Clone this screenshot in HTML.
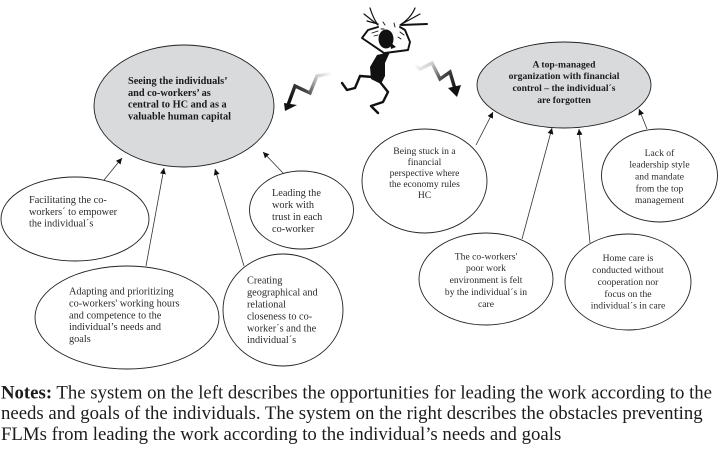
<!DOCTYPE html>
<html><head><meta charset="utf-8"><style>
html,body{margin:0;padding:0;background:#fff}
svg{display:block;filter:blur(.3px)}
text{font-family:"Liberation Serif",serif;font-size:10.3px;fill:#2a2a2a}
.r{font-size:9.6px;letter-spacing:.02px}
.b{font-weight:bold;fill:#1a1a1a}
.c{text-anchor:middle}
.n{font-size:18.78px;fill:#1c1c1c}
.e{stroke:#222;stroke-width:.9;fill:#fff}
.g{fill:#d9dadc}
.a{stroke:#333;stroke-width:.8;fill:none;marker-end:url(#m)}
.f{fill:none;stroke:#111;stroke-linecap:round;stroke-linejoin:round}
</style></head><body>
<svg width="718" height="450" viewBox="0 0 718 450" xmlns="http://www.w3.org/2000/svg">
<defs>
<marker id="m" markerUnits="userSpaceOnUse" markerWidth="8" markerHeight="8" refX="6" refY="3" orient="auto"><path d="M0 0L6 3L0 6Z" fill="#111"/></marker>
<linearGradient id="l1" gradientUnits="userSpaceOnUse" x1="333" y1="75" x2="290" y2="100"><stop offset="0" stop-color="#fff"/><stop offset=".3" stop-color="#ccc"/><stop offset=".65" stop-color="#444"/><stop offset="1" stop-color="#111"/></linearGradient>
<linearGradient id="l2" gradientUnits="userSpaceOnUse" x1="415" y1="64" x2="455" y2="90"><stop offset="0" stop-color="#fff"/><stop offset=".3" stop-color="#ccc"/><stop offset=".65" stop-color="#444"/><stop offset="1" stop-color="#111"/></linearGradient>
</defs>

<ellipse class="e g" cx="184" cy="106" rx="90" ry="61"/>
<ellipse class="e g" cx="564" cy="85" rx="87" ry="43"/>

<ellipse class="e" cx="75" cy="219" rx="74" ry="42"/>
<ellipse class="e" cx="301.5" cy="210" rx="52" ry="39"/>
<ellipse class="e" cx="127" cy="317.5" rx="92" ry="51.5"/>
<ellipse class="e" cx="283" cy="310" rx="60" ry="56"/>
<ellipse class="e" cx="424.5" cy="181" rx="62.5" ry="52"/>
<ellipse class="e" cx="659.5" cy="175.5" rx="58" ry="46.5"/>
<ellipse class="e" cx="486" cy="279" rx="67" ry="46"/>
<ellipse class="e" cx="628" cy="282" rx="63" ry="48"/>

<path class="a" d="M104 180L122 158"/>
<path class="a" d="M146 266L164 168"/>
<path class="a" d="M244 266L215 169"/>
<path class="a" d="M283 173L263 152"/>
<path class="a" d="M476 145L493 112"/>
<path class="a" d="M522 239L552 128"/>
<path class="a" d="M590 243L579 129"/>
<path class="a" d="M647 129L639 109"/>

<!-- lightning -->
<path d="M333 73L317 76L310 93L295 86L288 105" fill="none" stroke="url(#l1)" stroke-width="3.4"/>
<path d="M285 111L284 103L297 105Z" fill="#111"/>
<path d="M415 65L420 69L432 63L440 79L450 72L455 89" fill="none" stroke="url(#l2)" stroke-width="3.4"/>
<path d="M457 97L448 88L461 85Z" fill="#111"/>

<!-- figure -->
<ellipse cx="386" cy="39" rx="7.5" ry="9.5" fill="#111"/>
<path d="M390 42L396 47L391 49Z" fill="#111"/>
<path fill="#111" d="M377 55L390 52L385 63L385 76L381 84L371 79L370 67Z"/>
<path class="f" stroke-width="1.9" d="M384 53L362 38L368 30L378 27"/>
<path class="f" stroke-width="1.9" d="M385 53L408 50L410 42L405 30L400 27"/>
<path class="f" stroke-width="2.4" d="M373 77L360 76L355 88L347 90L342 83"/>
<path class="f" stroke-width="2.4" d="M380 82L388 92L383 102L371 106L378 113"/>
<path class="f" stroke-width="1.2" d="M378 25Q373 18 370 8M378 25L364 14M378 24L367 21"/>
<path class="f" stroke-width="1.2" d="M400 25Q411 18 415 8M400 25L420 14"/>
<path class="f" stroke-width="1.9" d="M401 25L427 24"/>
<path class="f" stroke-width=".9" d="M372 33L378 31M374 36L378 35M383 22L385 25M394 23L395 27M400 32L404 35M398 37L401 39M381 29L384 29"/>

<!-- center bold -->
<text class="b" x="128" y="84">Seeing the individuals’</text>
<text class="b" x="128" y="96">and co-workers’ as</text>
<text class="b" x="128" y="107.5">central to HC and as a</text>
<text class="b" x="128" y="119.5">valuable human capital</text>

<text class="b c r" x="564" y="67.5">A top-managed</text>
<text class="b c r" x="564" y="79">organization with financial</text>
<text class="b c r" x="564" y="91">control – the individual´s</text>
<text class="b c r" x="564" y="103">are forgotten</text>

<text x="29" y="203">Facilitating the co-</text>
<text x="29" y="215">workers´ to empower</text>
<text x="29" y="226.5">the individual´s</text>

<text x="272" y="196">Leading the</text>
<text x="272" y="208">work with</text>
<text x="272" y="220">trust in each</text>
<text x="272" y="232">co-worker</text>

<text x="69" y="294.5">Adapting and prioritizing</text>
<text x="69" y="306.5">co-workers' working hours</text>
<text x="69" y="318.5">and competence to the</text>
<text x="69" y="330">individual’s needs and</text>
<text x="69" y="342">goals</text>

<text x="247" y="283.5">Creating</text>
<text x="247" y="295.5">geographical and</text>
<text x="247" y="307.5">relational</text>
<text x="247" y="319.5">closeness to co-</text>
<text x="247" y="331.5">worker´s and the</text>
<text x="247" y="343">individual´s</text>

<text class="c r" x="424.5" y="154">Being stuck in a</text>
<text class="c r" x="424.5" y="165">financial</text>
<text class="c r" x="424.5" y="176">perspective where</text>
<text class="c r" x="424.5" y="187">the economy rules</text>
<text class="c r" x="424.5" y="198">HC</text>

<text class="c r" x="659.5" y="156">Lack of</text>
<text class="c r" x="659.5" y="167.5">leadership style</text>
<text class="c r" x="659.5" y="179.5">and mandate</text>
<text class="c r" x="659.5" y="191.5">from the top</text>
<text class="c r" x="659.5" y="203">management</text>

<text class="c r" x="486" y="259.5">The co-workers'</text>
<text class="c r" x="486" y="271">poor work</text>
<text class="c r" x="486" y="283">environment is felt</text>
<text class="c r" x="486" y="295">by the individual´s in</text>
<text class="c r" x="486" y="307">care</text>

<text class="c r" x="628" y="261">Home care is</text>
<text class="c r" x="628" y="273">conducted without</text>
<text class="c r" x="628" y="285">cooperation nor</text>
<text class="c r" x="628" y="297">focus on the</text>
<text class="c r" x="628" y="308.5">individual´s in care</text>

<text class="n" x="1" y="398.5"><tspan font-weight="bold">Notes:</tspan> The system on the left describes the opportunities for leading the work according to the</text>
<text class="n" x="1" y="419">needs and goals of the individuals. The system on the right describes the obstacles preventing</text>
<text class="n" x="1" y="440">FLMs from leading the work according to the individual’s needs and goals</text>
</svg>
</body></html>
